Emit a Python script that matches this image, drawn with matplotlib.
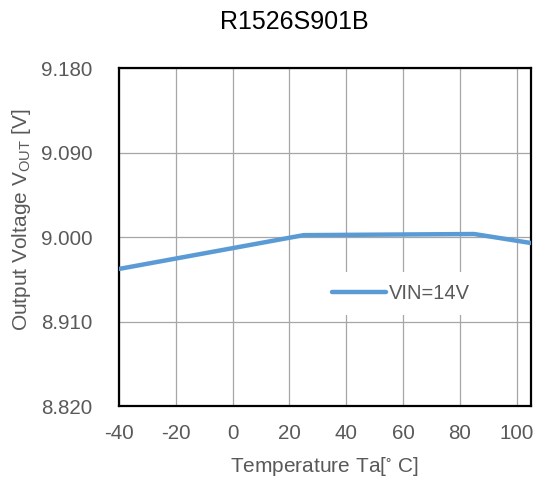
import matplotlib
matplotlib.use("Agg")
import matplotlib.pyplot as plt

temps = [-40, 25, 85, 105]
vout = [8.966, 9.002, 9.0032, 8.9936]
xticks = [-40, -20, 0, 20, 40, 60, 80, 100]
yticks = [8.820, 8.910, 9.000, 9.090, 9.180]
ytick_labels = ["8.820", "8.910", "9.000", "9.090", "9.180"]

plt.rcParams['font.family'] = ['Liberation Sans', 'DejaVu Sans']
plt.rcParams['mathtext.default'] = 'regular'
plt.rcParams['axes.unicode_minus'] = False

fig = plt.figure(figsize=(5.35, 4.78), dpi=100)
ax = fig.add_axes([0.2224, 0.1506, 0.7701, 0.7071])
ax.plot(temps, vout, color='#5b9bd5', lw=3.2, label='VIN=14V', solid_capstyle='round', zorder=3)
ax.set_xlim(-40, 105)
ax.set_ylim(8.820, 9.180)
ax.set_xticks(xticks)
ax.set_yticks(yticks)
ax.set_yticklabels(ytick_labels)
ax.grid(True, color='#a6a6a6', lw=0.9)
ax.tick_params(axis='both', length=0, labelsize=14.8, colors='#595959')
ax.tick_params(axis='x', pad=13)
ax.tick_params(axis='y', pad=19)
for s in ax.spines.values():
    s.set_linewidth(1.6)
    s.set_color('black')
fig.text(0.551, 0.954, 'R1526S901B', fontsize=18, ha='center', va='center')
ax.set_xlabel('Temperature Ta[$^{\\circ}$ C]', fontsize=15, color='#595959')
ax.xaxis.set_label_coords((324 - 119) / 412, (406 - 466) / 338)
ax.xaxis.label.set_va('center')
ax.set_ylabel('Output Voltage $V_{OUT}$ [V]', fontsize=15, color='#595959')
ax.yaxis.set_label_coords((22 - 119) / 412, (406 - 220) / 338)
ax.yaxis.label.set_va('center')
leg = ax.legend(loc='center', bbox_to_anchor=(0.684, 0.334), frameon=True, fontsize=14.5,
                handlelength=2.7, handletextpad=0.15, borderpad=0.6, borderaxespad=0)
leg.get_frame().set_facecolor('white')
leg.get_frame().set_edgecolor('none')
leg.get_frame().set_alpha(1)
for t in leg.get_texts():
    t.set_color('#595959')
fig.savefig('out.png', dpi=100)
